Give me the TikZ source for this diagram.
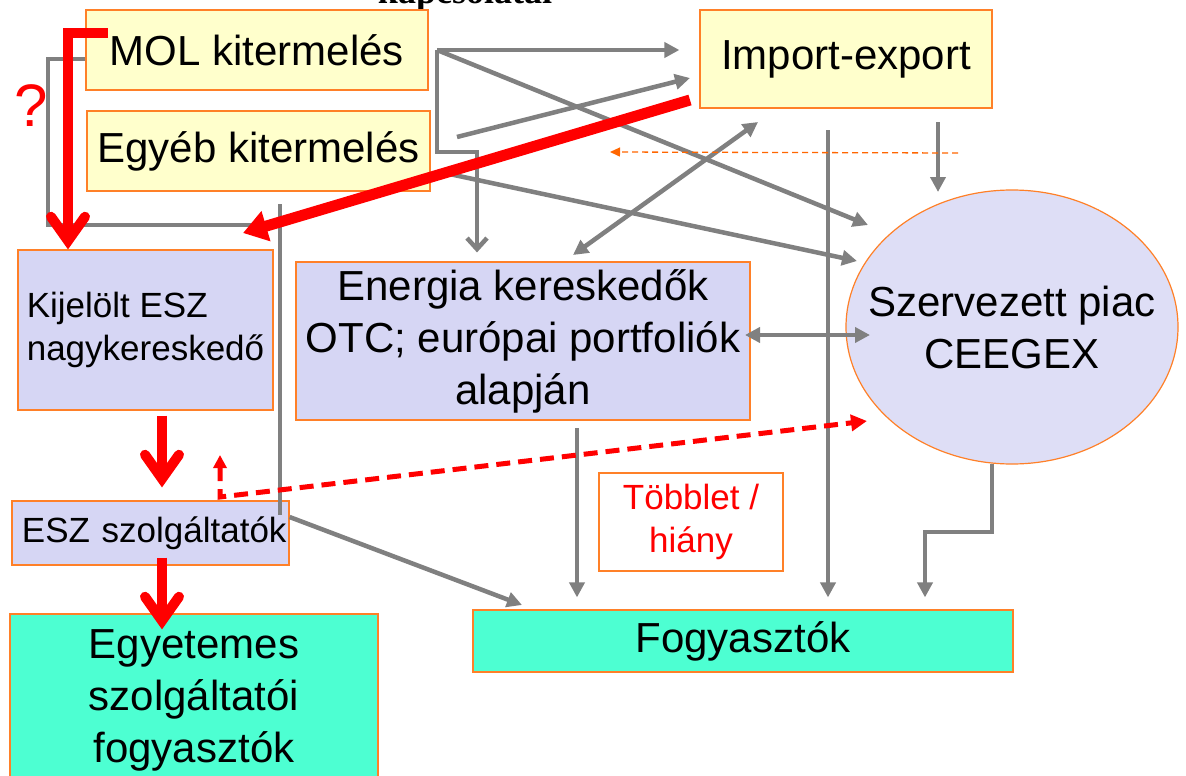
\documentclass[tikz,border=0pt]{standalone}
\usepackage{fontspec}
\setmainfont{Liberation Sans}
\newfontfamily\titleserif{Liberation Serif}
\usetikzlibrary{shapes.geometric,arrows.meta}
\definecolor{srcyellow}{RGB}{255,255,204}
\definecolor{tradelav}{RGB}{214,214,244}
\definecolor{marketlav}{RGB}{222,222,246}
\definecolor{usergreen}{RGB}{77,255,210}
\definecolor{rim}{RGB}{255,128,40}
\definecolor{flowgray}{RGB}{128,128,128}
\definecolor{flowred}{RGB}{255,0,0}
\definecolor{hintorange}{RGB}{255,102,0}

\begin{document}
\begin{tikzpicture}[x=1pt,y=-1pt,
 every node/.style={draw=rim,line width=1.2pt,inner sep=0pt,align=center,font=\fontsize{42}{52}\selectfont},
 src/.style={fill=srcyellow},
 trade/.style={fill=tradelav},
 user/.style={fill=usergreen},
 small/.style={font=\fontsize{35}{43}\selectfont},
 plain/.style={draw=none,fill=none},
 gline/.style={draw=flowgray,line width=4.5pt},
 gflow/.style={gline,-{Triangle[length=15pt,width=15pt]}},
 gboth/.style={gline,{Triangle[length=15pt,width=15pt]}-{Triangle[length=15pt,width=15pt]}},
 gopen/.style={gline,-{Straight Barb[length=11pt,width=20pt]}},
 rflow/.style={draw=flowred,line width=10pt,-{Straight Barb[length=24pt,width=34pt,line cap=round]}},
 rwedge/.style={draw=flowred,line width=11pt,-{Triangle[length=24pt,width=30pt]}},
 rdash/.style={draw=flowred,line width=5pt,dash pattern=on 14pt off 8pt,{Triangle[length=13pt,width=13pt]}-{Triangle[length=16pt,width=16pt]}},
 odash/.style={draw=hintorange,line width=1.3pt,dash pattern=on 6pt off 4pt,-{Triangle[length=10pt,width=9pt]}}]
\path[use as bounding box,fill=white](0,0) rectangle (1186,776);
\node[plain,font=\titleserif\bfseries\fontsize{36}{36}\selectfont,anchor=base](TTL) at (465,4){kapcsolatai};
\node[src,minimum width=342pt,minimum height=80pt](MOL) at (257,50){MOL kitermelés};
\node[src,minimum width=343pt,minimum height=80pt](EGY) at (258.5,151){Egyéb kitermelés};
\node[src,minimum width=292pt,minimum height=98pt](IMP) at (846,59){Import-export};
\node[trade,small,minimum width=255pt,minimum height=160pt,align=left](KIJ) at (145.5,330){Kijelölt ESZ\\nagykereskedő};
\node[trade,minimum width=454pt,minimum height=158pt](ENR) at (523,341){Energia kereskedők\\OTC; európai portfoliók\\alapján};
\node[ellipse,fill=marketlav,inner xsep=-40pt,minimum width=332pt,minimum height=274pt](CGX) at (1012,327){Szervezett piac\\CEEGEX};
\node[trade,small,minimum width=277pt,minimum height=64pt,text width=272pt,align=right](ESZ) at (150.5,533){ESZ szolgáltatók};
\node[small,text=flowred,minimum width=184pt,minimum height=98pt](TH) at (691,522){Többlet /\\hiány};
\node[user,minimum width=540pt,minimum height=62pt](FOG) at (743,641){Fogyasztók};
\node[user,minimum width=368pt,minimum height=172pt](EGF) at (194,700){Egyetemes\\szolgáltatói\\fogyasztók};
\node[plain,text=flowred,font=\fontsize{60}{60}\selectfont](Q) at (31,106){?};
\coordinate(hub) at (437,50);
\coordinate(hubstep) at (477,152);
\coordinate(cgxa) at (868,225);
\coordinate(cgxb) at (857,261);
\coordinate(egya) at (457,137);
\coordinate(impa) at (690,78);
\coordinate(egyb) at (440,172);
\coordinate(impr) at (690,100);
\coordinate(kijr) at (243,233);
\coordinate(loop) at (48,225);
\coordinate(loopend) at (276,225);
\coordinate(bartop) at (280,204);
\coordinate(barbot) at (280,515);
\coordinate(foga) at (522,605);
\coordinate(molr) at (108,33);
\coordinate(molrc) at (68,33);
\coordinate(dup) at (220,455);
\coordinate(dcorner) at (220,497);
\coordinate(dtip) at (867,421);
\coordinate(oa) at (958,153);
\coordinate(ob) at (610,152);
\coordinate(enra) at (573,255);
\coordinate(impb) at (758,122);
\coordinate(impc) at (938,122);
\coordinate(cgxc) at (938,192);
\coordinate(longtop) at (828,130);
\coordinate(enrr) at (745,335);
\coordinate(cgxr) at (870,335);
\coordinate(enrout) at (577,428);
\coordinate(cgxout) at (992,464);
\coordinate(cgxstep) at (925,532);
\draw[gflow,shorten >=20pt](hub)--(hub -| IMP.west);
\draw[gopen,shorten >=9pt](hub)|-(hubstep)--(hubstep |- ENR.north);
\draw[gflow](hub)--(cgxa);
\draw[gflow](egya)--(impa);
\draw[gflow](egyb)--(cgxb);
\draw[gline]([yshift=-9pt]MOL.west)-|(loop)--(loopend);
\draw[gline](bartop)--(barbot);
\draw[gflow]([yshift=16pt]ESZ.east)--(foga);
\draw[gboth](enra)--(impb);
\draw[gflow](impc)--(cgxc);
\draw[gflow,shorten >=12pt](longtop)--(longtop |- FOG.north);
\draw[gboth](enrr)--(cgxr);
\draw[gflow,shorten >=12pt](enrout)--(enrout |- FOG.north);
\draw[gflow,shorten >=12pt](cgxout)|-(cgxstep)--(cgxstep |- FOG.north);
\draw[odash](oa)--(ob);
\draw[rdash](dup)--(dcorner)--(dtip);
\draw[rwedge](impr)--(kijr);
\draw[rflow](molr)--(molrc)--(molrc |- KIJ.north);
\draw[rflow,shorten <=5pt,shorten >=13pt]([xshift=16.5pt]KIJ.south)--([xshift=11.5pt]ESZ.north);
\draw[rflow,shorten <=-8pt,shorten >=-16pt]([xshift=11.5pt]ESZ.south)--([xshift=-32pt]EGF.north);
\end{tikzpicture}
\end{document}
